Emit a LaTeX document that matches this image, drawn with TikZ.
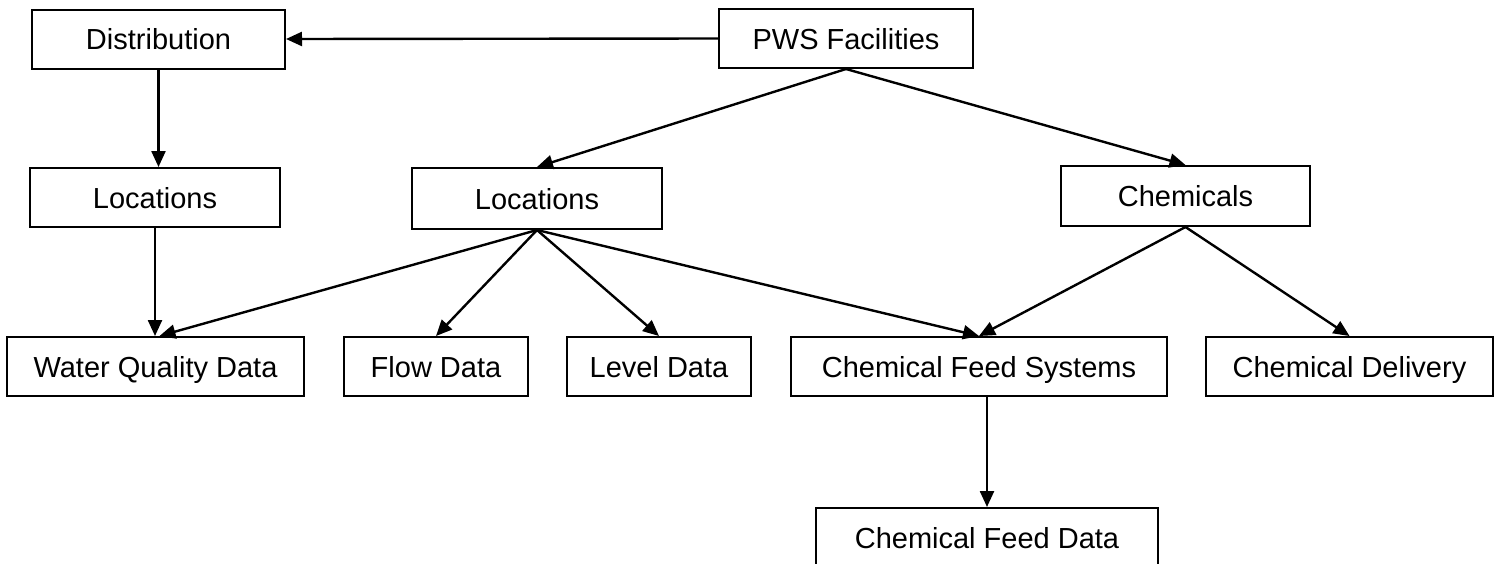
\documentclass[tikz,border=0pt]{standalone}
\usepackage{fontspec}
\setmainfont{Liberation Sans}
\usetikzlibrary{arrows.meta,calc}
\begin{document}
\begin{tikzpicture}[x=0.5pt,y=-0.5pt,
  box/.style={draw=black,line width=1pt,fill=white,inner sep=0pt,
    font=\fontsize{14.5pt}{17pt}\selectfont,minimum height=29.5pt,
    text height=11.6pt,text depth=1pt},
  link/.style={line width=1.2pt,-{Triangle[length=8pt,width=7pt]}}]
\useasboundingbox (0,0) rectangle (1500,563);
\begin{scope}
\clip (0,0) rectangle (1500,563);
\node[box,minimum width=126.5pt] (dist) at (158.5,39) {Distribution};
\node[box,minimum width=127pt] (pws) at (846,38.5) {PWS Facilities};
\node[box,minimum width=125pt] (loc1) at (155,197.5) {Locations};
\node[box,minimum width=125pt,minimum height=30.5pt] (loc2) at (537,198.5) {Locations};
\node[box,minimum width=124.5pt,minimum height=30pt] (chem) at (1185.5,196) {Chemicals};
\node[box,minimum width=148.5pt] (wqd) at (155.5,366.5) {Water Quality Data};
\node[box,minimum width=92pt] (flow) at (436,366.5) {Flow Data};
\node[box,minimum width=92pt] (level) at (659,366.5) {Level Data};
\node[box,minimum width=188pt] (cfs) at (979,366.5) {Chemical Feed Systems};
\node[box,minimum width=143.5pt] (cd) at (1349.5,366.5) {Chemical Delivery};
\node[box,minimum width=171pt,minimum height=30pt] (cfd) at (987,538) {Chemical Feed Data};

\draw[link] (pws.west) -- (dist.east);
\draw[link] (dist.south) -- (dist.south |- loc1.north);
\draw[link] (pws.south) -- (loc2.north);
\draw[link] (pws.south) -- (chem.north);
\draw[link] (loc1.south) -- (loc1.south |- wqd.north);
\draw[link] (loc2.south) -- ($(wqd.north)+(4,0)$);
\draw[link] (loc2.south) -- (flow.north);
\draw[link] (loc2.south) -- (level.north);
\draw[link] (loc2.south) -- (cfs.north);
\draw[link] (chem.south) -- (cfs.north);
\draw[link] (chem.south) -- (cd.north);
\draw[link] (cfs.south -| cfd.north) -- (cfd.north);
\end{scope}
\end{tikzpicture}
\end{document}
